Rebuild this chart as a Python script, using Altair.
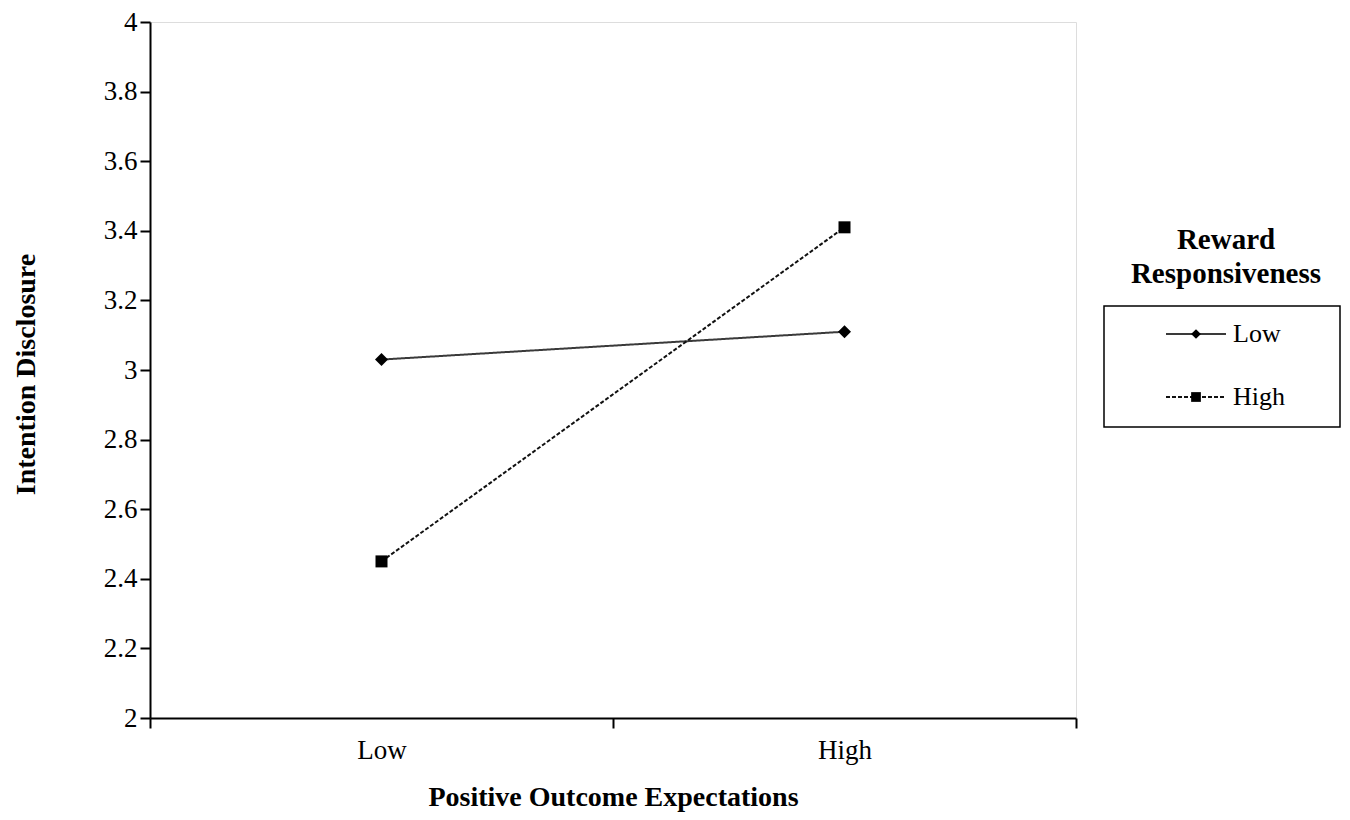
import altair as alt
import pandas as pd

# ---- data ----
positive_levels = ["Low", "High"]          # Positive Outcome Expectations
reward_levels = ["Low", "High"]            # Reward Responsiveness
low_reward_values = [3.03, 3.11]
high_reward_values = [2.45, 3.41]
y_ticks = [2, 2.2, 2.4, 2.6, 2.8, 3, 3.2, 3.4, 3.6, 3.8, 4]

rows = []
for p, v in zip(positive_levels, low_reward_values):
    rows.append({"Positive": p, "Reward": "Low", "value": v})
for p, v in zip(positive_levels, high_reward_values):
    rows.append({"Positive": p, "Reward": "High", "value": v})
df = pd.DataFrame(rows)
legend_df = pd.DataFrame({"Reward": reward_levels})

FONT = "Liberation Serif"
TOP = 14
W, H = 926, 710 - TOP

x_enc = alt.X(
    "Positive:N",
    sort=positive_levels,
    bandPosition=0.5,
    scale=alt.Scale(type="band", paddingInner=0, paddingOuter=0),
    axis=alt.Axis(
        title="Positive Outcome Expectations",
        tickBand="extent",
        labelAngle=0,
        labelFont=FONT, labelFontSize=27, labelColor="black", labelPadding=9,
        titleFont=FONT, titleFontSize=28, titleFontWeight="bold", titleColor="black",
        titleY=79, titleBaseline="middle",
        domainColor="black", domainWidth=2, tickColor="black", tickWidth=2, tickSize=10,
        grid=False,
    ),
)
y_axis = alt.Axis(
    title="Intention Disclosure",
    values=y_ticks,
    format="~g",
    labelFont=FONT, labelFontSize=27, labelColor="black", labelPadding=3,
    titleFont=FONT, titleFontSize=28, titleFontWeight="bold", titleColor="black",
    titleX=-124, titleY=H / 2 + 4, titleBaseline="middle", titleAngle=270,
    domainColor="black", domainWidth=2, tickColor="black", tickWidth=2, tickSize=10,
    grid=False,
)
y_scale = alt.Scale(domain=[2, 4], nice=False, zero=False)
y_enc = alt.Y("value:Q", scale=y_scale, axis=y_axis)

dash_scale = alt.Scale(domain=reward_levels, range=[[1, 0], [4, 2]])
color_scale = alt.Scale(domain=reward_levels, range=["#3a3a3a", "#111111"])
shape_scale = alt.Scale(domain=reward_levels, range=["diamond", "square"])

lines = alt.Chart(df).mark_line(strokeWidth=2).encode(
    x=x_enc,
    y=y_enc,
    detail="Reward:N",
    strokeDash=alt.StrokeDash("Reward:N", scale=dash_scale, legend=None),
    color=alt.Color("Reward:N", scale=color_scale, legend=None),
)
points = alt.Chart(df).mark_point(filled=True, opacity=1, color="black").encode(
    x=x_enc,
    y=y_enc,
    shape=alt.Shape("Reward:N", scale=shape_scale, legend=None),
    size=alt.Size("Reward:N", scale=alt.Scale(domain=reward_levels, range=[170, 144]), legend=None),
)
main = alt.layer(lines, points)

# legend positions relative to plot origin (plot top is at page y = 8 + TOP)
dy = 15 - (8 + TOP)
leg_y = alt.Y(
    "Reward:N",
    scale=alt.Scale(type="point", domain=reward_levels, range=[319 + dy, 382 + dy], padding=0),
    axis=None,
)
leg_rules = alt.Chart(legend_df).mark_rule(strokeWidth=2).encode(
    x=alt.value(1016), x2=alt.value(1076), y=leg_y,
    strokeDash=alt.StrokeDash("Reward:N", scale=dash_scale, legend=None),
    color=alt.Color("Reward:N", scale=color_scale, legend=None),
)
leg_pts = alt.Chart(legend_df).mark_point(filled=True, opacity=1, color="black", size=95).encode(
    x=alt.value(1046), y=leg_y,
    shape=alt.Shape("Reward:N", scale=shape_scale, legend=None),
)
leg_text = alt.Chart(legend_df).mark_text(
    align="left", baseline="middle", font=FONT, fontSize=26, color="black"
).encode(x=alt.value(1083), y=leg_y, text="Reward:N")
legend = alt.layer(leg_rules, leg_pts, leg_text)

box = alt.Chart(pd.DataFrame({"k": [0]})).mark_rect(
    fill=None, stroke="black", strokeWidth=1.5
).encode(x=alt.value(954), x2=alt.value(1190), y=alt.value(291 + dy), y2=alt.value(412 + dy))

leg_title = alt.Chart(pd.DataFrame({"t": ["Reward\nResponsiveness"]})).mark_text(
    lineBreak="\n", font=FONT, fontSize=29, fontWeight="bold", color="black",
    align="center", baseline="middle", lineHeight=34,
).encode(x=alt.value(1076), y=alt.value(225 + dy), text="t:N")

chart = (
    alt.layer(main, legend, box, leg_title)
    .resolve_scale(y="independent")
    .properties(
        width=W, height=H,
        autosize=alt.AutoSizeParams(type="none"),
        padding={"left": 142, "top": TOP, "right": 266, "bottom": 94},
    )
    .configure_view(stroke="#999999", strokeWidth=1.5)
    .configure(background="white")
)

chart.save("out.html", embed_options={"renderer": "svg", "actions": False})
